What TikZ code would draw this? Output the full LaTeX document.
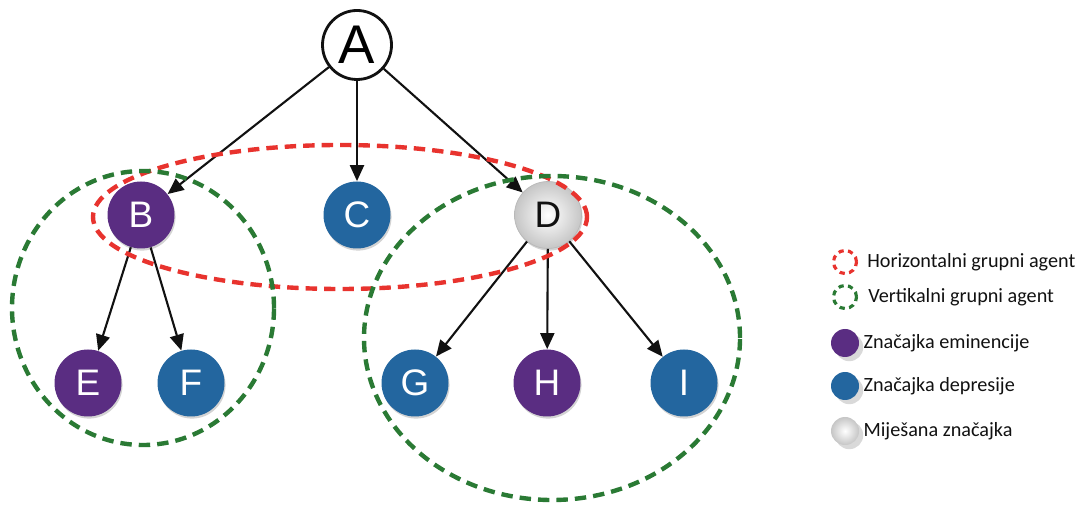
\documentclass[tikz,border=0pt]{standalone}
\usepackage{fontspec}
\usepackage{tikz}
\usepackage{xcolor}
\usetikzlibrary{arrows.meta,positioning,shapes,shadows}
\setmainfont{Carlito}
\newfontfamily\nodefont{Liberation Sans}
\definecolor{ink}{HTML}{111111}
\definecolor{eminpurple}{HTML}{5A2D82}
\definecolor{deprblue}{HTML}{23669F}
\definecolor{mixgray}{HTML}{B8B8B8}
\definecolor{hgroupred}{HTML}{E8332E}
\definecolor{vgroupgreen}{HTML}{2A7A34}
\tikzset{
  ball/.style={circle,minimum size=1.34cm,inner sep=0pt,
               font=\nodefont\fontsize{21}{21}\selectfont,text=white,
               drop shadow={opacity=0.35,shadow xshift=0.6pt,shadow yshift=-1.2pt}},
  emball/.style={ball,fill=eminpurple},
  deball/.style={ball,fill=deprblue},
  mixball/.style={ball,text=ink,draw=mixgray,line width=0.4pt,
                  shading=radial,inner color=white,outer color=gray!45},
  rootball/.style={circle,draw=ink,fill=white,line width=1.6pt,
                   minimum size=1.38cm,inner sep=0pt,
                   font=\nodefont\fontsize{31}{31}\selectfont},
  treearr/.style={-{Triangle[length=3.2mm,width=2.8mm]},line width=1.2pt,draw=ink},
  hgroup/.style={draw=hgroupred,line width=2.5pt,dash pattern=on 6.5pt off 4pt},
  vgroup/.style={draw=vgroupgreen,line width=2.5pt,dash pattern=on 6.5pt off 4pt},
  legdot/.style={circle,minimum size=0.56cm,inner sep=0pt},
  legtext/.style={font=\fontsize{11.5}{13}\selectfont,text=ink,anchor=west}
}
\begin{document}
\begin{tikzpicture}[x=1cm,y=1cm]
    \path[use as bounding box] (0,0) rectangle (21.72,10.08);
    % tree
    \node[rootball] (A) at (7.14,9.18) {A};
    \node[emball] (B) at (2.82,5.78) {B};
    \node[deball] (C) at (7.14,5.78) {C};
    \node[mixball] (D) at (10.96,5.78) {D};
    \node[emball] (E) at (1.76,2.42) {E};
    \node[deball] (F) at (3.82,2.42) {F};
    \node[deball] (G) at (8.30,2.42) {G};
    \node[emball] (H) at (10.94,2.42) {H};
    \node[deball] (I) at (13.68,2.42) {I};
    \foreach \p/\c in {A/B,A/C,A/D,B/E,B/F,D/G,D/H,D/I}{
      \draw[treearr] (\p) -- (\c);
    }
    % group agents
    \draw[hgroup] (6.80,5.74) ellipse (4.94cm and 1.44cm);
    \draw[vgroup] (2.86,3.92) ellipse (2.62cm and 2.74cm);
    \draw[vgroup] (11.04,3.32) ellipse (3.76cm and 3.24cm);
    % legend
    \node[legdot,draw=hgroupred,line width=1.8pt,dash pattern=on 3pt off 2.5pt,
          minimum size=0.46cm] (lh) at (16.90,4.84) {};
    \node[legdot,draw=vgroupgreen,line width=1.8pt,dash pattern=on 3pt off 2.5pt,
          minimum size=0.46cm] (lv) at (16.90,4.14) {};
    \node[legdot,fill=eminpurple,drop shadow={opacity=0.3}] (le) at (16.90,3.22) {};
    \node[legdot,fill=deprblue,drop shadow={opacity=0.3}] (ld) at (16.90,2.36) {};
    \node[legdot,shading=radial,inner color=white,outer color=gray!45,
          drop shadow={opacity=0.3}] (lm) at (16.90,1.46) {};
    \node[legtext,right=0.06cm of lh] {Horizontalni grupni agent};
    \node[legtext,right=0.08cm of lv] {Vertikalni grupni agent};
    \node[legtext,right=-0.04cm of le] {Značajka eminencije};
    \node[legtext,right=-0.04cm of ld] {Značajka depresije};
    \node[legtext,right=-0.04cm of lm] {Miješana značajka};
  \end{tikzpicture}
\end{document}
